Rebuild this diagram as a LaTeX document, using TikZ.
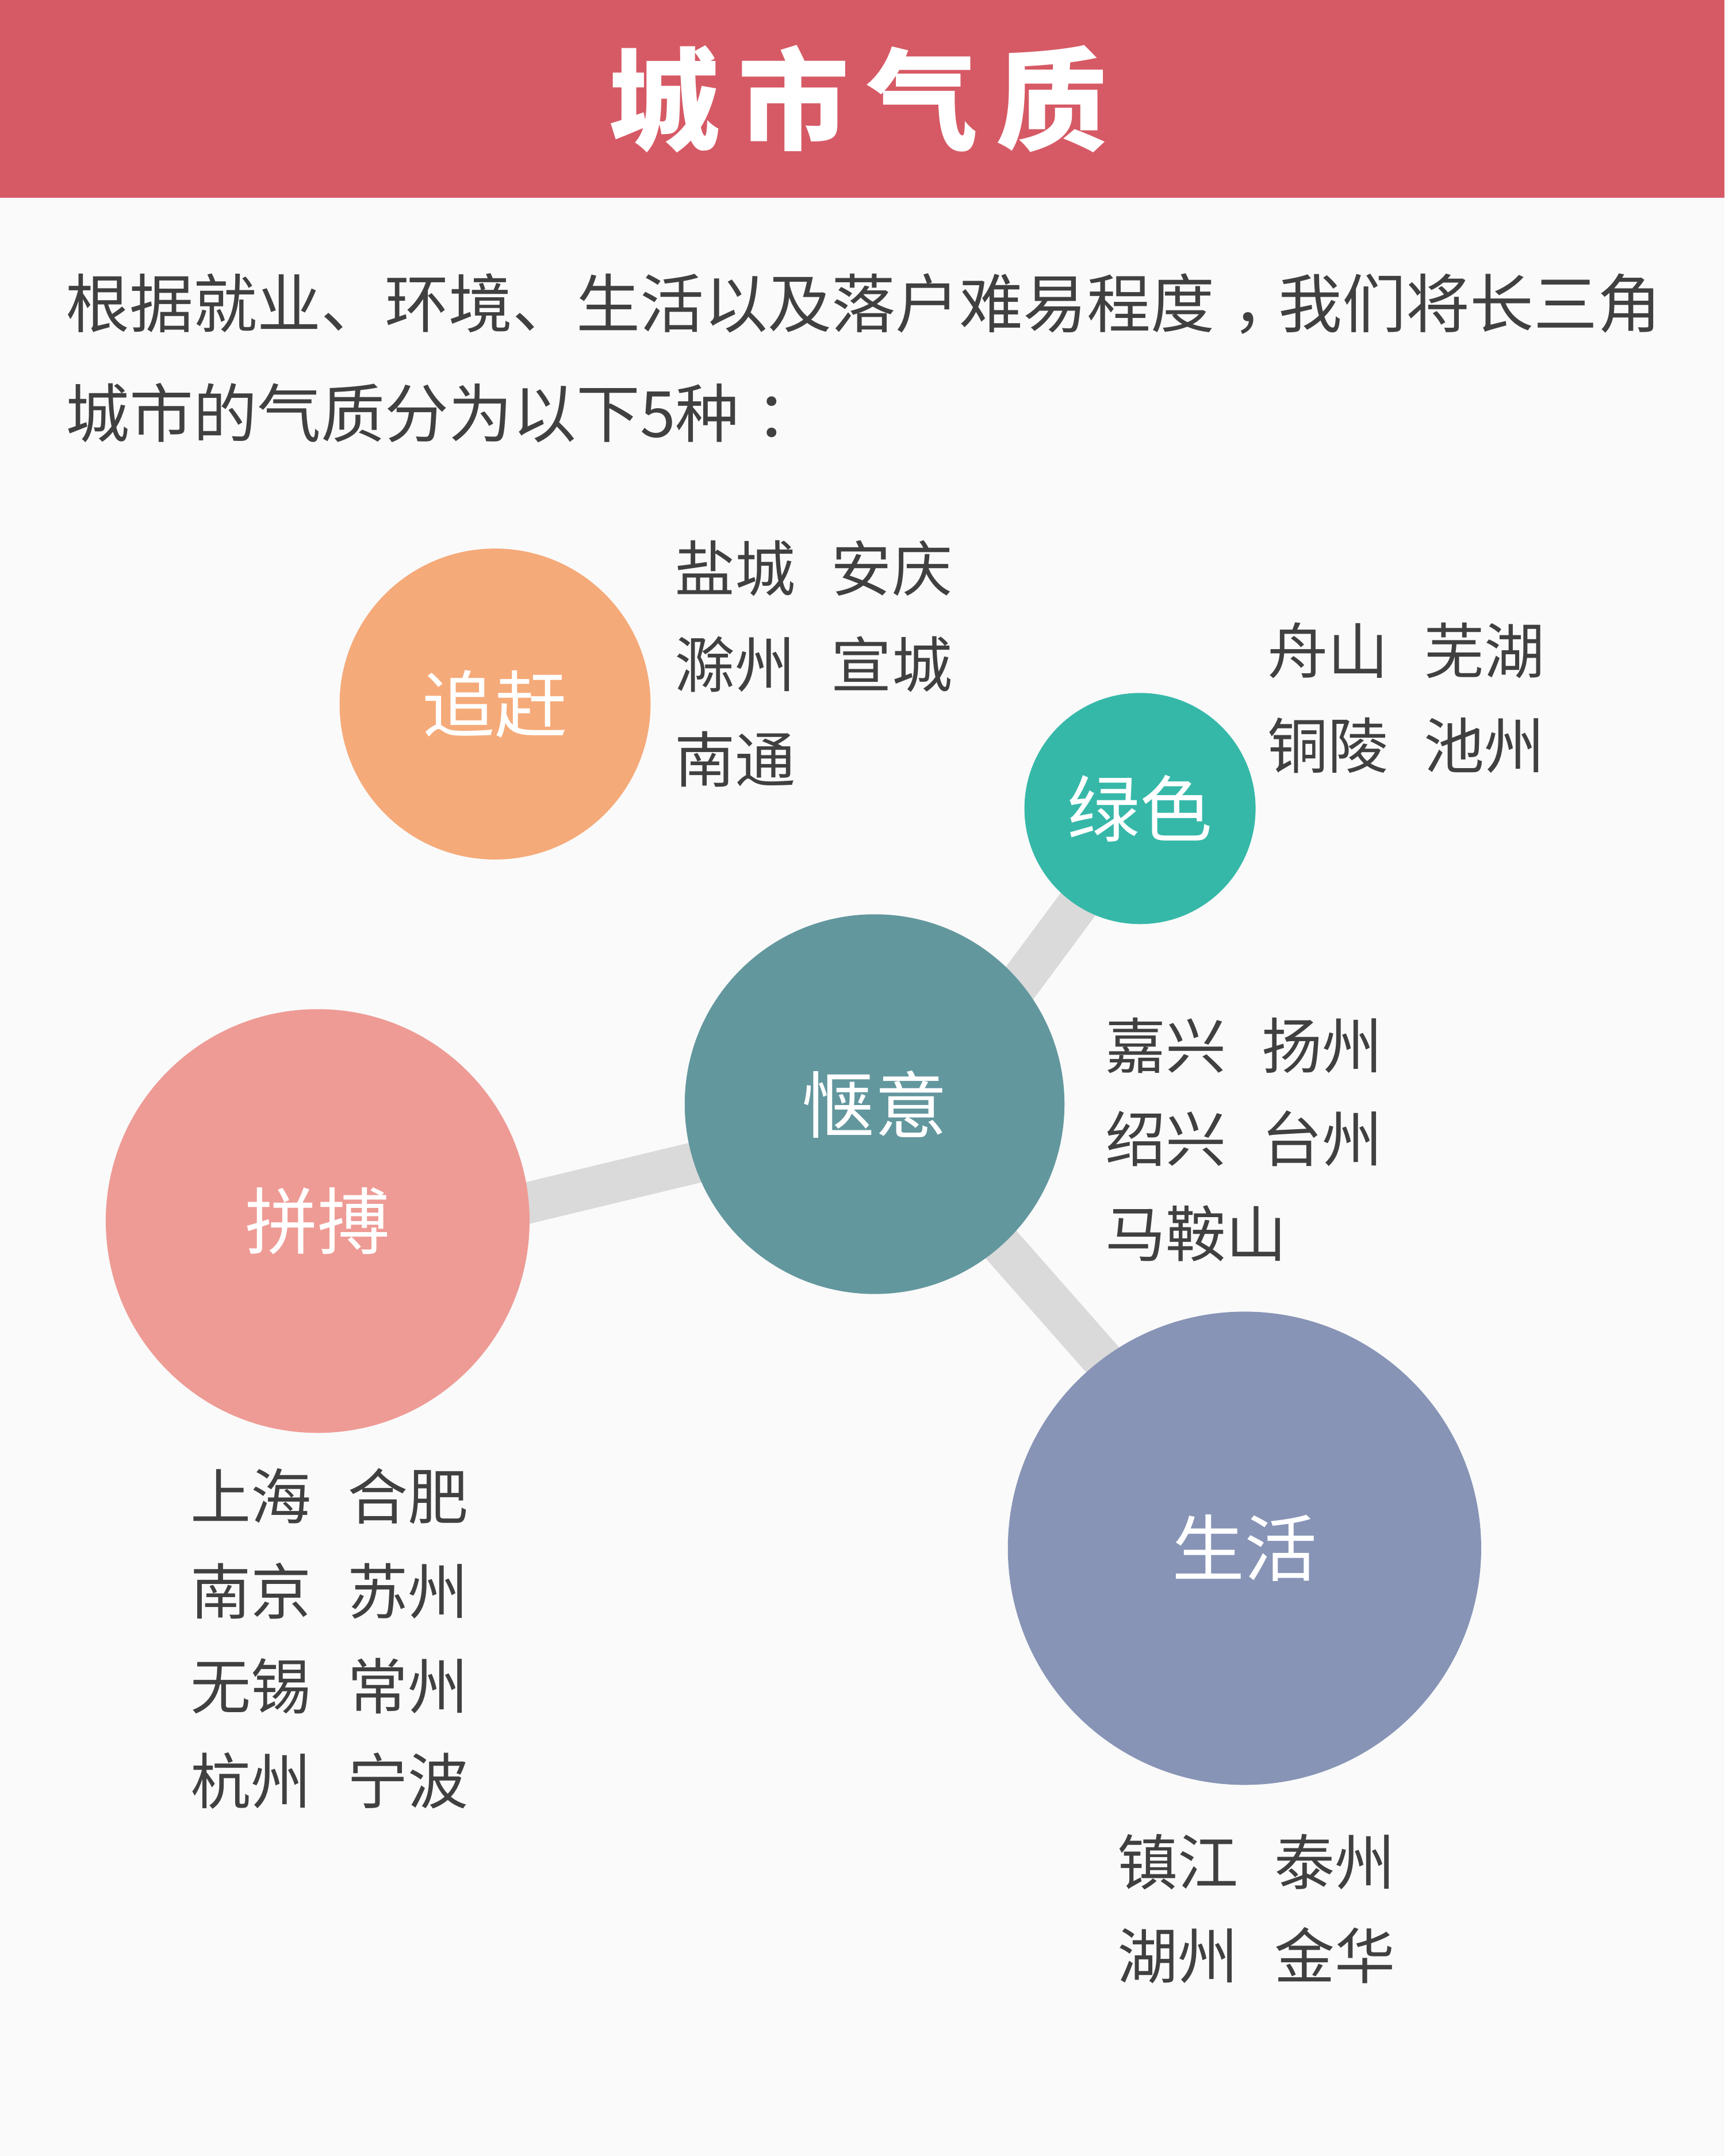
\documentclass[tikz,border=0pt]{standalone}
\usepackage{fontspec}
\setmainfont{Noto Sans CJK SC}
\usepackage{tikz}
\usetikzlibrary{positioning,backgrounds}
\definecolor{hdred}{HTML}{D65A65}
\definecolor{bggray}{HTML}{FAFAFA}
\definecolor{txtgray}{HTML}{404040}
\definecolor{linkgray}{HTML}{DADADA}
\definecolor{chase}{HTML}{F5AA79}
\definecolor{green}{HTML}{36B8A9}
\definecolor{easy}{HTML}{63979E}
\definecolor{fight}{HTML}{EE9B95}
\definecolor{life}{HTML}{8794B6}
\begin{document}
\begin{tikzpicture}[x=0.01cm, y=-0.01cm, every node/.style={inner sep=0pt},
  bub/.style={circle, text=white, font=\fontsize{15}{18}\selectfont},
  city/.style={anchor=base west, text=txtgray, font=\fontsize{12.5}{15}\selectfont},
  link/.style={draw=linkgray, line width=0.3cm, shorten <=-12pt, shorten >=-12pt}]
  \useasboundingbox (0,0) rectangle (1254,1568);
  \begin{scope}[on background layer]
    \fill[bggray] (0,0) rectangle (1254,1568);
    \fill[hdred] (0,0) rectangle (1254,144);
  \end{scope}
  \node[anchor=base, text=white, font=\fontsize{23}{28}\selectfont\bfseries] (title) at (624,103)
    {城\hspace{0.13cm}市\hspace{0.13cm}气\hspace{0.13cm}质};
  \node[anchor=base west, text=txtgray, font=\fontsize{13.2}{16}\selectfont] (intro1) at (47,238)
    {根据就业、环境、生活以及落户难易程度\hspace{0.13cm}，\hspace{-0.13cm}我们将长三角};
  \node[anchor=base west, text=txtgray, font=\fontsize{13.2}{16}\selectfont] (intro2) at (47,318)
    {城市的气质分为以下5种\hspace{0.12cm}：};

  % circles
  \node[bub, fill=chase, minimum size=2.26cm] (zg) at (360,512) {追赶};
  \node[bub, fill=green, minimum size=1.68cm] (ls) at (829,588) {绿色};
  \node[bub, fill=easy, minimum size=2.76cm] (qy) at (636,803) {惬意};
  \node[bub, fill=fight, minimum size=3.08cm] (pb) at (231,888) {拼搏};
  \node[bub, fill=life, minimum size=3.44cm] (sh) at (905,1126) {生活};
  \begin{scope}[on background layer]
    \draw[link] (qy.40) -- (ls.237);
    \draw[link] (qy.198) -- (pb.5);
    \draw[link] (qy.312) -- (sh.127);
  \end{scope}

  % city lists
  \node[city] (zg1) at (490,430) {盐城\hspace{0.26cm}安庆};
  \node[city] (zg2) at (490,500) {滁州\hspace{0.26cm}宣城};
  \node[city] (zg3) at (490,569) {南通};
  \node[city] (ls1) at (921,490) {舟山\hspace{0.26cm}芜湖};
  \node[city] (ls2) at (921,559) {铜陵\hspace{0.26cm}池州};
  \node[city] (qy1) at (803,777) {嘉兴\hspace{0.26cm}扬州};
  \node[city] (qy2) at (803,845) {绍兴\hspace{0.26cm}台州};
  \node[city] (qy3) at (803,914) {马鞍山};
  \node[city] (pb1) at (138,1105) {上海\hspace{0.26cm}合肥};
  \node[city] (pb2) at (138,1174) {南京\hspace{0.26cm}苏州};
  \node[city] (pb3) at (138,1243) {无锡\hspace{0.26cm}常州};
  \node[city] (pb4) at (138,1312) {杭州\hspace{0.26cm}宁波};
  \node[city] (sh1) at (812,1371) {镇江\hspace{0.26cm}泰州};
  \node[city] (sh2) at (812,1439) {湖州\hspace{0.26cm}金华};
\end{tikzpicture}
\end{document}
